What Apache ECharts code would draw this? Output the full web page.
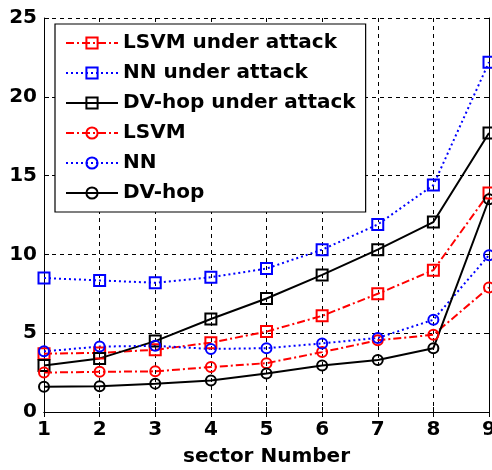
<!DOCTYPE html>
<html><head><meta charset="utf-8">
<script src="https://cdn.jsdelivr.net/npm/echarts@6/dist/echarts.min.js"></script>
<style>html,body{margin:0;padding:0;background:#fff}#c{width:492px;height:470px}</style>
</head><body><div id="c"></div>
<script>
var sectors = [1,2,3,4,5,6,7,8,9];
var lsvmAttack   = [3.7, 3.75, 3.95, 4.4, 5.1, 6.1, 7.5, 9.0, 13.9];
var nnAttack     = [8.5, 8.35, 8.2, 8.55, 9.1, 10.3, 11.9, 14.4, 22.2];
var dvhopAttack  = [2.95, 3.4, 4.5, 5.9, 7.2, 8.7, 10.3, 12.05, 17.7];
var lsvm         = [2.5, 2.55, 2.58, 2.85, 3.1, 3.8, 4.55, 4.9, 7.9];
var nn           = [3.85, 4.15, 4.2, 4.0, 4.05, 4.35, 4.7, 5.85, 9.95];
var dvhop        = [1.6, 1.63, 1.8, 2.0, 2.45, 2.95, 3.3, 4.05, 13.5];
var seriesNames = ['LSVM under attack','NN under attack','DV-hop under attack','LSVM','NN','DV-hop'];
var yTicks = [0,5,10,15,20,25];

function pairs(v){ return sectors.map(function(x,i){ return [x, v[i]]; }); }
var FONT = '"DejaVu Sans", "Liberation Sans", Arial, sans-serif';
var dashDot = [8,3,2,3];
var dotted = [2,3];
function mk(name, vals, color, dash, sym, size){
  return {
    name: name, type: 'line', data: pairs(vals),
    symbol: sym, symbolSize: size,
    lineStyle: {color: color, width: 2, type: dash},
    itemStyle: {color: 'rgba(255,255,255,0)', borderColor: color, borderWidth: 2},
    emphasis: {disabled: true}, animation: false
  };
}
var chart = echarts.init(document.getElementById('c'));
chart.setOption({
  animation: false,
  grid: {left: 44, right: 3, top: 18, bottom: 58, containLabel: false, outerBoundsMode: 'none'},
  legend: {
    show: true, orient: 'vertical', left: 55, top: 24,
    data: seriesNames,
    backgroundColor: '#fff', borderColor: '#000', borderWidth: 1.2,
    padding: [8, 10, 8, 10],
    itemWidth: 52, itemHeight: 14, itemGap: 8,
    textStyle: {fontFamily: FONT, fontWeight: 'bold', fontSize: 20, color: '#000', lineHeight: 22},
    selectedMode: false
  },
  xAxis: [{
    type: 'value', min: 1, max: 9, interval: 1,
    name: 'sector Number', nameLocation: 'middle', nameGap: 35, nameMoveOverlap: false,
    nameTextStyle: {fontFamily: FONT, fontWeight: 'bold', fontSize: 20, color: '#000'},
    axisLine: {show: true, lineStyle: {color: '#000', width: 1}},
    axisTick: {show: true, inside: true, length: 5, lineStyle: {color: '#000'}},
    axisLabel: {fontFamily: FONT, fontWeight: 'bold', fontSize: 20, color: '#000', margin: 8},
    splitLine: {show: true, lineStyle: {color: '#000', type: [4,4], width: 1}}
  },{
    type: 'value', min: 1, max: 9, interval: 1, position: 'top',
    axisLine: {show: true, lineStyle: {color: '#000', width: 1}},
    axisTick: {show: true, inside: true, length: 5, lineStyle: {color: '#000'}},
    axisLabel: {show: false}, splitLine: {show: false}
  }],
  yAxis: [{
    type: 'value', min: 0, max: 25, interval: 5,
    axisLine: {show: true, lineStyle: {color: '#000', width: 1}},
    axisTick: {show: true, inside: true, length: 5, lineStyle: {color: '#000'}},
    axisLabel: {fontFamily: FONT, fontWeight: 'bold', fontSize: 20, color: '#000', margin: 7,
      formatter: function(v){ return yTicks.indexOf(v) >= 0 ? String(v) : ''; }},
    splitLine: {show: true, lineStyle: {color: '#000', type: [4,4], width: 1}}
  },{
    type: 'value', min: 0, max: 25, interval: 5, position: 'right',
    axisLine: {show: true, lineStyle: {color: '#000', width: 1}},
    axisTick: {show: true, inside: true, length: 5, lineStyle: {color: '#000'}},
    axisLabel: {show: false}, splitLine: {show: false}
  }],
  series: [
    mk(seriesNames[0], lsvmAttack, '#ff0000', dashDot, 'rect', 11),
    mk(seriesNames[1], nnAttack, '#0000ff', dotted, 'rect', 11),
    mk(seriesNames[2], dvhopAttack, '#000000', 'solid', 'rect', 11),
    mk(seriesNames[3], lsvm, '#ff0000', dashDot, 'circle', 10),
    mk(seriesNames[4], nn, '#0000ff', dotted, 'circle', 10),
    mk(seriesNames[5], dvhop, '#000000', 'solid', 'circle', 10)
  ]
});
</script></body></html>
